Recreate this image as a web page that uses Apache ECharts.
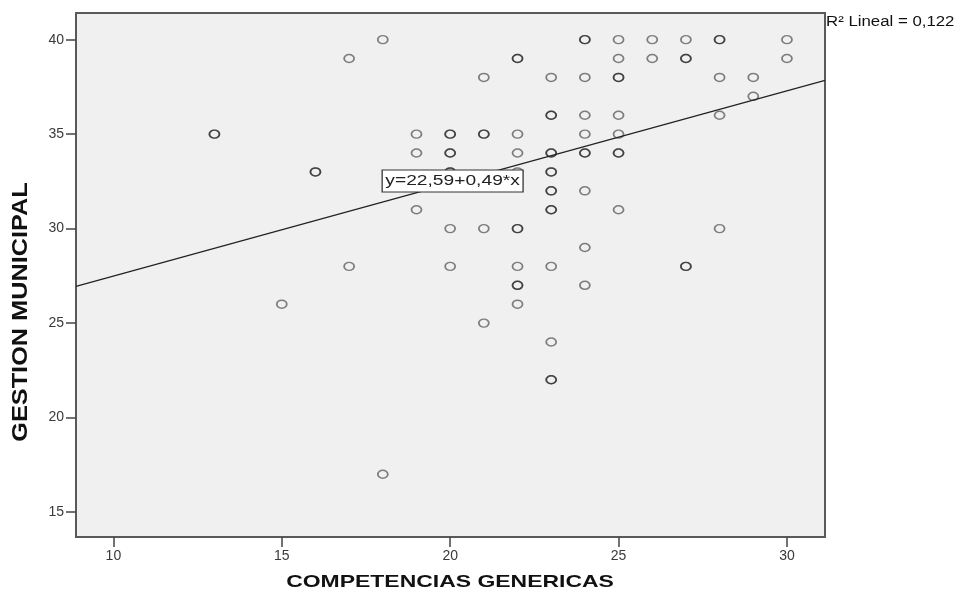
<!DOCTYPE html>
<html><head><meta charset="utf-8">
<script src="https://cdn.jsdelivr.net/npm/echarts@6/dist/echarts.min.js"></script>
<style>html,body{margin:0;padding:0;background:#fff}#c{width:956px;height:590px}</style>
</head><body><div id="c"></div>
<script>
// COMPETENCIAS GENERICAS (x) and GESTION MUNICIPAL (y), one entry per case
const competencias = [
  13,13, 15, 16,16, 17,17, 18,18, 19,19,19,
  20,20,20,20,20,20,20,20,
  21,21,21,21,21,
  22,22,22,22,22,22,22,22,22,22,22,
  23,23,23,23,23,23,23,23,23,23,23,23,23,23,23,
  24,24,24,24,24,24,24,24,24,24,
  25,25,25,25,25,25,25,25,25,
  26,26, 27,27,27,27,27, 28,28,28,28,28, 29,29, 30,30
];
const gestion = [
  35,35, 26, 33,33, 39,28, 40,17, 35,34,31,
  35,35,34,34,33,33,30,28,
  38,35,35,30,25,
  39,39,35,34,33,30,30,28,27,27,26,
  38,36,36,34,34,33,33,32,32,31,31,28,24,22,22,
  40,40,38,36,35,34,34,32,29,27,
  40,39,38,38,36,35,34,34,31,
  40,39, 40,39,39,28,28, 40,40,38,36,30, 38,37, 40,39
];
const xTicks = [10, 15, 20, 25, 30];
const yTicks = [15, 20, 25, 30, 35, 40];
const intercept = 22.59;
const slope = 0.49;
const equationText = 'y=22,59+0,49*x';
const r2Text = 'R² Lineal = 0,122';
const xTitle = 'COMPETENCIAS GENERICAS';
const yTitle = 'GESTION MUNICIPAL';

const X_MIN = 8.89, X_MAX = 31.13, Y_MIN = 13.68, Y_MAX = 41.41;
const points = competencias.map((x, i) => [x, gestion[i]]);
const fitLine = [[X_MIN, intercept + slope * X_MIN], [X_MAX, intercept + slope * X_MAX]];

const FONT = '"Liberation Sans", Arial, sans-serif';
const chart = echarts.init(document.getElementById('c'), null, {renderer: 'canvas'});
const axisCommon = {
  type: 'value',
  splitLine: {show: false},
  axisLine: {show: true, onZero: false, lineStyle: {color: '#5a5a5a', width: 1.5}},
  axisTick: {show: true, length: 10, lineStyle: {color: '#444', width: 1.5}},
  axisLabel: {color: '#3a3a3a', fontSize: 14, fontFamily: FONT}
};
chart.setOption({
  animation: false,
  backgroundColor: '#ffffff',
  grid: {left: 76, right: 131, top: 13, bottom: 53, show: true,
         backgroundColor: '#f0f0f0', borderColor: '#5a5a5a', borderWidth: 2},
  xAxis: Object.assign({}, axisCommon, {
    min: X_MIN, max: X_MAX,
    axisTick: Object.assign({}, axisCommon.axisTick, {customValues: xTicks}),
    axisLabel: Object.assign({}, axisCommon.axisLabel, {customValues: xTicks, margin: 12})
  }),
  yAxis: Object.assign({}, axisCommon, {
    min: Y_MIN, max: Y_MAX,
    axisTick: Object.assign({}, axisCommon.axisTick, {customValues: yTicks}),
    axisLabel: Object.assign({}, axisCommon.axisLabel, {customValues: yTicks, margin: 12})
  }),
  series: [
    {
      type: 'scatter', data: points, symbol: 'circle', symbolSize: [10, 8],
      itemStyle: {color: 'rgba(0,0,0,0)', borderColor: 'rgba(0,0,0,0.6)', borderWidth: 1.6},
      silent: true, z: 2
    },
    {
      type: 'line', data: fitLine, symbol: 'none', silent: true, z: 3,
      lineStyle: {color: '#222', width: 1.2}
    }
  ],
  graphic: [
    {type: 'text', x: 450, y: 582, scaleX: 1.35, silent: true,
     style: {text: xTitle, font: 'bold 17px ' + FONT, fill: '#111', align: 'center', verticalAlign: 'middle'}},
    {type: 'text', x: 20.5, y: 312, rotation: Math.PI / 2, scaleX: 1.15, silent: true,
     style: {text: yTitle, font: 'bold 22px ' + FONT, fill: '#111', align: 'center', verticalAlign: 'middle'}},
    {type: 'text', x: 826, y: 15, scaleX: 1.2, silent: true,
     style: {text: r2Text, font: '14px ' + FONT, fill: '#111', align: 'left', verticalAlign: 'top'}}
  ]
});
const anchor = chart.convertToPixel({gridIndex: 0}, [18.0, 33.07]);
chart.setOption({
  graphic: [
    {type: 'text', id: 'eq', x: anchor[0], y: anchor[1], scaleX: 1.28, silent: true, z: 10,
     style: {text: equationText, font: '15px ' + FONT, fill: '#222', align: 'left', verticalAlign: 'top',
             backgroundColor: '#ffffff', borderColor: '#333', borderWidth: 1, padding: [3, 2, 3, 2]}}
  ]
});
</script>
</body></html>
